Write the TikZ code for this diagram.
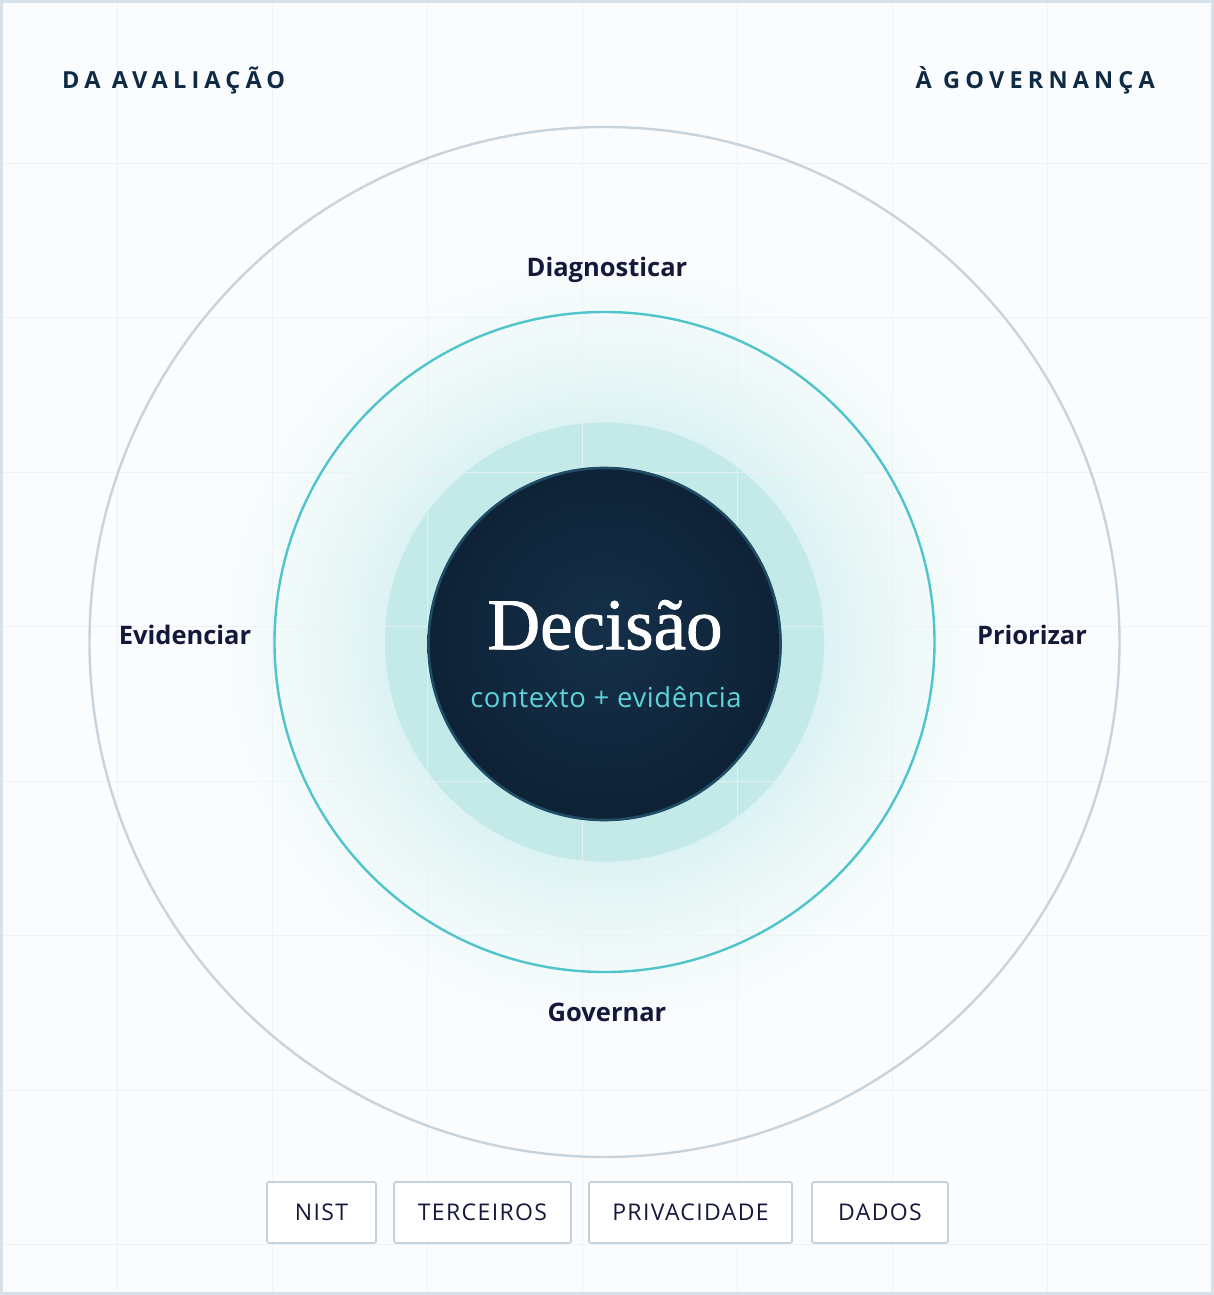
\documentclass[tikz,border=0pt]{standalone}
\usepackage{fontspec}
\setmainfont{Open Sans}
\newfontfamily\serifdec[FakeBold=1.2]{Liberation Serif}
\newfontfamily\headfont[LetterSpace=22]{Open Sans}
\newfontfamily\boxfont[LetterSpace=6]{Open Sans}
\newfontfamily\ctxfont[LetterSpace=2]{Open Sans}
\definecolor{bgc}{HTML}{FBFCFD}
\definecolor{gridc}{HTML}{EDF1F4}
\definecolor{framec}{HTML}{D8E1E8}
\definecolor{outerc}{HTML}{C9D3DC}
\definecolor{tealc}{HTML}{4FC4CC}
\definecolor{haloc}{HTML}{C3E9E9}
\definecolor{glowA}{HTML}{DCF2F2}
\definecolor{glowB}{HTML}{EAF7F7}
\definecolor{glowC}{HTML}{F2FAFA}
\definecolor{darkin}{HTML}{15304A}
\definecolor{darkout}{HTML}{0E2236}
\definecolor{darkrim}{HTML}{1F4D66}
\definecolor{navy}{HTML}{14193B}
\definecolor{headc}{HTML}{0F2A44}
\definecolor{cyanc}{HTML}{5CD3D8}
\definecolor{boxline}{HTML}{C5D1DC}
% 25bp corresponds to the radius of the shaded circle
\pgfdeclareradialshading{glowshade}{\pgfpoint{0bp}{0bp}}{color(0bp)=(glowA); color(14bp)=(glowA); color(17.9bp)=(glowB); color(21.15bp)=(glowC); color(25bp)=(bgc); color(50bp)=(bgc)}
\pgfdeclareradialshading{darkshade}{\pgfpoint{0bp}{2bp}}{color(0bp)=(darkin); color(10bp)=(darkin!60!darkout); color(25bp)=(darkout); color(50bp)=(darkout)}
\begin{document}
\begin{tikzpicture}[x=1pt,y=-1pt,
  steplabel/.style={font=\bfseries\fontsize{25.5}{30}\selectfont, text=navy, inner sep=0pt},
  headlabel/.style={font=\headfont\bfseries\fontsize{23.5}{28}\selectfont, text=headc, inner sep=0pt},
  tagbox/.style={draw=boxline, line width=1.6pt, fill=white, rounded corners=1.5pt, minimum height=61pt, inner sep=0pt, font=\boxfont\fontsize{23}{27}\selectfont, text=navy}]
\useasboundingbox (0,0) rectangle (1214,1295);
% background
\fill[bgc] (0,0) rectangle (1214,1295);
% center
\coordinate (c) at (604.5,642);
% glow
\shade[shading=glowshade] (c) circle (390);
% halo
\fill[haloc] (c) circle (219.5);
% grid
\foreach \gx in {117,272,427,582,737,892,1047}
  \draw[gridc, line width=1pt, opacity=0.8] (\gx,3) -- (\gx,1292);
\foreach \gy in {163,317.5,472,626.5,781,935.5,1090,1244.5}
  \draw[gridc, line width=1pt, opacity=0.8] (3,\gy) -- (1211,\gy);
\draw[framec, line width=3pt] (1.5,1.5) rectangle (1212.5,1293.5);
% outer circle
\draw[outerc, line width=2.4pt] (c) circle (515);
% teal ring
\draw[tealc, line width=2.4pt] (c) circle (330);
% dark circle
\shade[shading=darkshade] (604.5,644) circle (177);
\draw[darkrim, line width=2.6pt] (604.5,644) circle (176);
% center text
\node[font=\serifdec\fontsize{73}{80}\selectfont, text=white, inner sep=0pt] (dec) at (605,625) {Decisão};
\node[font=\ctxfont\fontsize{27.5}{32}\selectfont, text=cyanc, inner sep=0pt] (ctx) at (606,697) {contexto + evidência};
% step labels
\node[steplabel] (diag) at (607,270) {Diagnosticar};
\node[steplabel] (evid) at (185,635) {Evidenciar};
\node[steplabel] (prio) at (1032,635) {Priorizar};
\node[steplabel] (gov) at (607,1012) {Governar};
% headers
\node[headlabel, anchor=west] (h1) at (62,80) {DA AVALIAÇÃO};
\node[headlabel, anchor=east] (h2) at (1155,80) {À GOVERNANÇA};
% tags
\node[tagbox, minimum width=109pt] (t1) at (321.5,1212.5) {NIST};
\node[tagbox, minimum width=177pt] (t2) at (482.5,1212.5) {TERCEIROS};
\node[tagbox, minimum width=203pt] (t3) at (690.5,1212.5) {PRIVACIDADE};
\node[tagbox, minimum width=136pt] (t4) at (880,1212.5) {DADOS};
\end{tikzpicture}
\end{document}
